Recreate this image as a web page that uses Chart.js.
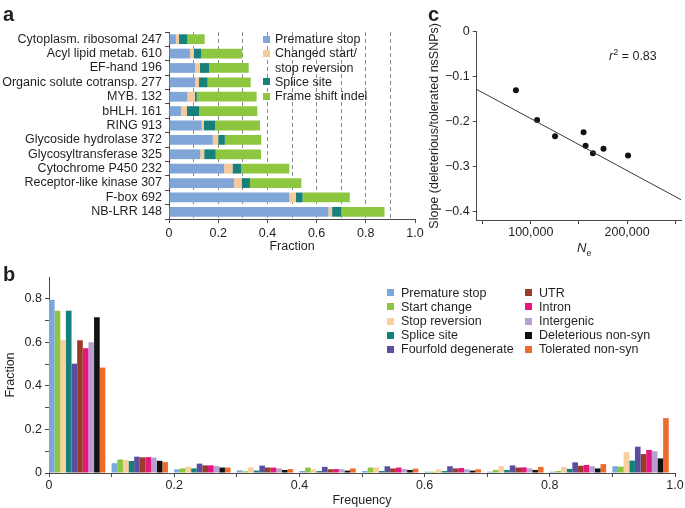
<!DOCTYPE html>
<html>
<head>
<meta charset="utf-8">
<script src="https://cdn.jsdelivr.net/npm/chart.js@4.4.7/dist/chart.umd.min.js"></script>
<style>
  body { margin: 0; background: #fff; }
  #fig { position: relative; width: 685px; height: 508px; overflow: hidden;
         font-family: "Liberation Sans", Arial, Helvetica, sans-serif; color: #231f20; }
  canvas { position: absolute; }
  .panel { position: absolute; font-weight: bold; font-size: 20px; line-height: 20px; }
  .lg { position: absolute; font-size: 12.5px; line-height: 14.2px; white-space: pre; }
  .lg .sw { position: absolute; left: 0; top: 3.6px; width: 7px; height: 7px; }
  .note { position: absolute; font-size: 12.5px; line-height: 14px; white-space: nowrap; }
</style>
</head>
<body>
<div id="fig">
  <canvas id="chartA" width="427" height="258" style="left:0;top:0"></canvas>
  <canvas id="chartC" width="265" height="258" style="left:420px;top:0"></canvas>
  <canvas id="chartB" width="685" height="250" style="left:0;top:258px"></canvas>
  <div class="panel" style="left:3px;top:4px">a</div>
  <div class="panel" style="left:428px;top:4px">c</div>
  <div class="panel" style="left:3px;top:264px">b</div>
  <div class="note" style="left:609px;top:45px"><i>r</i><sup style="font-size:9px">2</sup> = 0.83</div>
  <div class="note" style="left:577px;top:241px;font-size:13px"><i>N</i><sub style="font-size:9px">e</sub></div>
</div>
<script>
// ---- panel a: truncating mutations per gene family ----
const familiesA = ['Cytoplasm. ribosomal', 'Acyl lipid metab.', 'EF-hand', 'Organic solute cotransp.',
  'MYB.', 'bHLH.', 'RING', 'Glycoside hydrolase', 'Glycosyltransferase', 'Cytochrome P450',
  'Receptor-like kinase', 'F-box', 'NB-LRR'];
const geneCountsA = [247, 610, 196, 277, 132, 161, 913, 372, 325, 232, 307, 692, 148];
const prematureStopA = [0.028, 0.085, 0.106, 0.106, 0.075, 0.049, 0.133, 0.178, 0.127, 0.224, 0.264, 0.489, 0.648];
const changedStartA = [0.012, 0.016, 0.020, 0.016, 0.030, 0.024, 0.008, 0.022, 0.016, 0.034, 0.031, 0.026, 0.015];
const spliceSiteA = [0.035, 0.030, 0.037, 0.035, 0.008, 0.050, 0.046, 0.027, 0.047, 0.035, 0.034, 0.028, 0.037];
const frameShiftA = [0.070, 0.167, 0.161, 0.175, 0.243, 0.236, 0.183, 0.148, 0.184, 0.196, 0.209, 0.192, 0.176];
const fractionTicksA = ['0', '0.2', '0.4', '0.6', '0.8', '1.0'];
const legendA = ['Premature stop', 'Changed start/\nstop reversion', 'Splice site', 'Frame shift indel'];
const colorsA = ['#80a6d8', '#f6c99c', '#17807a', '#8dc63f'];

// ---- panel b: derived allele frequency spectra ----
const freqBins = [0.045, 0.145, 0.245, 0.345, 0.445, 0.545, 0.645, 0.745, 0.845, 0.945];
const prematureStopB = [0.795, 0.045, 0.017, 0.012, 0.009, 0.009, 0.006, 0.006, 0.006, 0.031];
const startChangeB = [0.745, 0.062, 0.021, 0.008, 0.025, 0.025, 0.006, 0.014, 0.009, 0.029];
const stopReversionB = [0.612, 0.060, 0.029, 0.026, 0.017, 0.025, 0.017, 0.032, 0.028, 0.096];
const spliceSiteB = [0.745, 0.055, 0.021, 0.011, 0.009, 0.009, 0.009, 0.014, 0.019, 0.057];
const fourfoldB = [0.502, 0.075, 0.043, 0.034, 0.028, 0.031, 0.031, 0.035, 0.049, 0.121];
const utrB = [0.610, 0.072, 0.035, 0.025, 0.017, 0.021, 0.021, 0.025, 0.033, 0.087];
const intronB = [0.573, 0.073, 0.035, 0.025, 0.018, 0.025, 0.023, 0.026, 0.037, 0.106];
const intergenicB = [0.600, 0.071, 0.032, 0.021, 0.017, 0.018, 0.017, 0.021, 0.031, 0.100];
const deleteriousB = [0.715, 0.056, 0.025, 0.014, 0.011, 0.014, 0.011, 0.014, 0.021, 0.067];
const toleratedB = [0.484, 0.050, 0.025, 0.018, 0.021, 0.020, 0.017, 0.028, 0.041, 0.252];
const namesB = ['Premature stop', 'Start change', 'Stop reversion', 'Splice site', 'Fourfold degenerate',
  'UTR', 'Intron', 'Intergenic', 'Deleterious non-syn', 'Tolerated non-syn'];
const colorsB = ['#7aa7dc', '#8cc63e', '#f9cf9e', '#138079', '#5a4e9f',
  '#9b3a28', '#e5177f', '#b7a0cf', '#111111', '#ef6b2b'];
const freqTicksB = ['0', '0.2', '0.4', '0.6', '0.8', '1.0'];
const fractionTicksB = ['0', '0.2', '0.4', '0.6', '0.8'];

// ---- panel c: slope vs effective population size ----
const neC = [84500, 106500, 125200, 154800, 156900, 164500, 175500, 201000];
const slopeC = [-0.130, -0.196, -0.232, -0.223, -0.253, -0.270, -0.260, -0.275];
const fitNeC = [43800, 256000];
const fitSlopeC = [-0.128, -0.373];
const neTicksC = [50000, 100000, 150000, 200000, 250000];
const neTickLabelsC = ['', '100,000', '', '200,000', ''];
const slopeTicksC = [-0.4, -0.3, -0.2, -0.1, 0];
const slopeTickLabelsC = ['\u22120.4', '\u22120.3', '\u22120.2', '\u22120.1', '0'];

Chart.defaults.font.family = '"Liberation Sans", Arial, Helvetica, sans-serif';
Chart.defaults.font.size = 12.5;
Chart.defaults.color = '#231f20';
Chart.defaults.animation = false;
Chart.defaults.plugins.legend.display = false;
Chart.defaults.plugins.tooltip.enabled = false;

const AXIS = '#4a4a4a';
const NONE = 'rgba(0,0,0,0)';

// ── a: stacked horizontal bars ──
const seriesA = [prematureStopA, changedStartA, spliceSiteA, frameShiftA];
new Chart(document.getElementById('chartA'), {
    type: 'bar',
    data: {
        labels: familiesA.map((f, i) => f + ' ' + geneCountsA[i]),
        datasets: seriesA.map((d, i) => ({
            label: legendA[i], data: d, backgroundColor: colorsA[i], borderWidth: 0,
        })),
    },
    options: {
        indexAxis: 'y',
        responsive: false,
        barPercentage: 0.68,
        categoryPercentage: 1,
        layout: { padding: { top: 32, right: 12, bottom: 0, left: 0 } },
        scales: {
            x: {
                type: 'linear', stacked: true, min: 0, max: 1,
                afterFit: (s) => { s.height = 39; },
                ticks: {
                    stepSize: 0.1, autoSkip: false, maxRotation: 0, padding: 3,
                    callback: (v, i) => (i % 2 ? '' : fractionTicksA[i / 2]),
                },
                grid: {
                    offset: false, tickLength: 4,
                    color: (ctx) => (ctx.index > 0 && ctx.index < 10 ? '#8c8c8c' : NONE),
                    tickColor: (ctx) => (ctx.index % 2 ? NONE : AXIS),
                },
                border: { color: AXIS, dash: [4, 3] },
                title: { display: true, text: 'Fraction', padding: { top: 0, bottom: 3.5 } },
            },
            y: {
                stacked: true,
                afterFit: (s) => { s.width = 169; },
                ticks: { autoSkip: false, padding: 3 },
                grid: { drawOnChartArea: false, tickLength: 4, color: AXIS },
                border: { color: AXIS },
            },
        },
    },
});

// ── b: grouped frequency histogram ──
const seriesB = [prematureStopB, startChangeB, stopReversionB, spliceSiteB, fourfoldB,
    utrB, intronB, intergenicB, deleteriousB, toleratedB];
new Chart(document.getElementById('chartB'), {
    type: 'bar',
    data: {
        datasets: seriesB.map((d, i) => ({
            label: namesB[i],
            data: d.map((v, j) => ({ x: freqBins[j], y: v })),
            backgroundColor: colorsB[i],
            borderWidth: 0,
        })),
    },
    options: {
        responsive: false,
        categoryPercentage: 0.9,
        barPercentage: 1,
        layout: { padding: { top: 19, right: 10, bottom: 0, left: 0 } },
        scales: {
            x: {
                type: 'linear', min: 0, max: 1, offset: false,
                afterFit: (s) => { s.height = 35; },
                ticks: {
                    stepSize: 0.1, autoSkip: false, maxRotation: 0, padding: 1,
                    callback: (v, i) => (i % 2 ? '' : freqTicksB[i / 2]),
                },
                grid: { offset: false, drawOnChartArea: false, tickLength: 4, color: AXIS },
                border: { color: AXIS },
                title: { display: true, text: 'Frequency', padding: 0 },
            },
            y: {
                min: 0, max: 0.9,
                afterFit: (s) => { s.width = 49; },
                afterBuildTicks: (s) => { s.ticks = s.ticks.filter((t) => t.value < 0.85); },
                ticks: {
                    stepSize: 0.1, autoSkip: false, padding: 3,
                    callback: (v, i) => (i % 2 ? '' : fractionTicksB[i / 2]),
                },
                grid: { drawOnChartArea: false, tickLength: 4, color: AXIS },
                border: { color: AXIS },
                title: { display: true, text: 'Fraction', padding: { top: 3.5, bottom: 0 } },
            },
        },
    },
});

// ── c: scatter with regression line ──
new Chart(document.getElementById('chartC'), {
    type: 'scatter',
    data: {
        datasets: [
            {
                type: 'line',
                data: fitNeC.map((x, i) => ({ x, y: fitSlopeC[i] })),
                borderColor: '#3a3a3a', borderWidth: 1, pointRadius: 0,
            },
            {
                data: neC.map((x, i) => ({ x, y: slopeC[i] })),
                backgroundColor: '#111', borderWidth: 0, pointRadius: 3,
            },
        ],
    },
    options: {
        responsive: false,
        layout: { padding: { top: 31.7, right: 3.3, bottom: 0, left: 0 } },
        scales: {
            x: {
                type: 'linear', min: 43800, max: 256000,
                afterFit: (s) => { s.height = 38; },
                afterBuildTicks: (s) => { s.ticks = neTicksC.map((v) => ({ value: v })); },
                ticks: { autoSkip: false, maxRotation: 0, padding: 1, callback: (v, i) => neTickLabelsC[i] },
                grid: { drawOnChartArea: false, tickLength: 4, color: AXIS },
                border: { color: AXIS },
            },
            y: {
                min: -0.418, max: 0,
                afterFit: (s) => { s.width = 56.7; },
                afterBuildTicks: (s) => { s.ticks = slopeTicksC.map((v) => ({ value: v })); },
                ticks: { autoSkip: false, padding: 3, callback: (v, i) => slopeTickLabelsC[i] },
                grid: { drawOnChartArea: false, tickLength: 4, color: AXIS },
                border: { color: AXIS },
                title: { display: true, text: 'Slope (deleterious/tolerated nsSNPs)', padding: { top: 7.5, bottom: 0 } },
            },
        },
    },
});

// ── HTML legends ──
const fig = document.getElementById('fig');
function legendItem(x, y, gap, color, text) {
    const el = document.createElement('div');
    el.className = 'lg';
    el.style.left = x + 'px';
    el.style.top = y + 'px';
    el.style.paddingLeft = gap + 'px';
    el.textContent = text;
    const sw = document.createElement('span');
    sw.className = 'sw';
    sw.style.background = color;
    el.appendChild(sw);
    fig.appendChild(el);
}
const rowsA = [0, 1, 3, 4];
legendA.forEach((t, i) => legendItem(263, 32.2 + rowsA[i] * 14.2, 12, colorsA[i], t));
namesB.forEach((t, i) => {
    const col = i < 5 ? 0 : 1;
    legendItem(col ? 525 : 387, 285.6 + (i % 5) * 14.2, 14, colorsB[i], t);
});
</script>
</body>
</html>
